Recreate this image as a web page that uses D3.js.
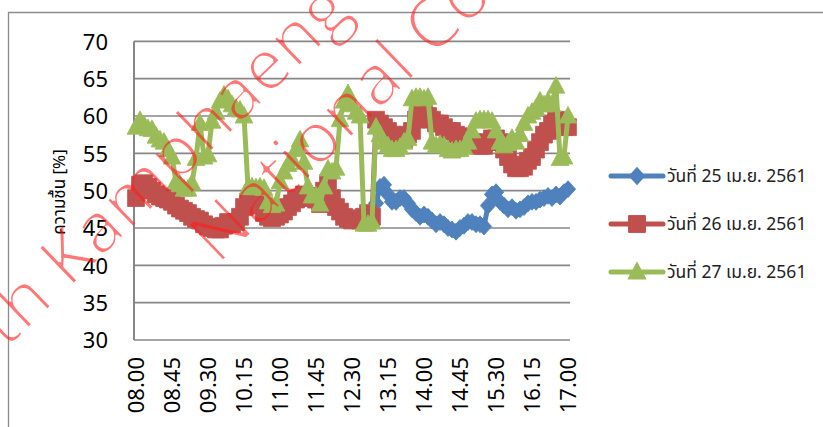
<!DOCTYPE html>
<html>
<head>
<meta charset="utf-8">
<script src="https://cdn.jsdelivr.net/npm/d3@7/dist/d3.min.js"></script>
<style>
  html, body { margin: 0; padding: 0; background: #fff; }
  svg { display: block; }
</style>
</head>
<body>
<svg id="chart" width="823" height="427"></svg>
<script>
// Sampling times, every 5 minutes from 08.00 to 17.00
const times = ("08.00 08.05 08.10 08.15 08.20 08.25 08.30 08.35 08.40 08.45 08.50 08.55 " +
  "09.00 09.05 09.10 09.15 09.20 09.25 09.30 09.35 09.40 09.45 09.50 09.55 " +
  "10.00 10.05 10.10 10.15 10.20 10.25 10.30 10.35 10.40 10.45 10.50 10.55 " +
  "11.00 11.05 11.10 11.15 11.20 11.25 11.30 11.35 11.40 11.45 11.50 11.55 " +
  "12.00 12.05 12.10 12.15 12.20 12.25 12.30 12.35 12.40 12.45 12.50 12.55 " +
  "13.00 13.05 13.10 13.15 13.20 13.25 13.30 13.35 13.40 13.45 13.50 13.55 " +
  "14.00 14.05 14.10 14.15 14.20 14.25 14.30 14.35 14.40 14.45 14.50 14.55 " +
  "15.00 15.05 15.10 15.15 15.20 15.25 15.30 15.35 15.40 15.45 15.50 15.55 " +
  "16.00 16.05 16.10 16.15 16.20 16.25 16.30 16.35 16.40 16.45 16.50 16.55 17.00").split(" ");

const tickLabels = ["08.00", "08.45", "09.30", "10.15", "11.00", "11.45", "12.30",
                    "13.15", "14.00", "14.45", "15.30", "16.15", "17.00"];
const yTicks = [30, 35, 40, 45, 50, 55, 60, 65, 70];

const seriesNames = ["วันที่ 25 เม.ย. 2561", "วันที่ 26 เม.ย. 2561", "วันที่ 27 เม.ย. 2561"];

// Humidity [%], 25 April 2018 (logging started at 13.00)
const day25 = [
  null, null, null, null, null, null, null, null, null, null, null, null,
  null, null, null, null, null, null, null, null, null, null, null, null,
  null, null, null, null, null, null, null, null, null, null, null, null,
  null, null, null, null, null, null, null, null, null, null, null, null,
  null, null, null, null, null, null, null, null, null, null, null, null,
  48.3, 50.5, 50.8, 49.5, 48.5, 48.5, 49.0, 49.0, 48.3, 47.5, 47.0, 46.5,
  46.8, 46.5, 46.0, 45.5, 45.8, 45.5, 45.0, 44.8, 44.5, 45.0, 45.3, 45.8,
  45.8, 45.5, 45.5, 45.2, 48.0, 49.5, 49.8, 48.5, 48.0, 47.5, 47.8, 47.3,
  47.5, 47.8, 48.3, 48.5, 48.5, 48.8, 49.0, 49.3, 49.0, 49.5, 49.2, 49.8, 50.2
];

// Humidity [%], 26 April 2018
const day26 = [
  49.0, 50.8, 51.0, 50.5, 50.0, 49.5, 49.2, 49.0, 48.8, 48.5, 48.0, 47.6,
  47.3, 47.0, 46.5, 46.2, 46.0, 45.5, 45.2, 45.0, 44.8, 44.8, 45.3, 45.8,
  45.5, 45.8, 46.5, 47.8, 48.5, 48.3, 48.0, 48.2, 47.0, 46.5, 46.3, 46.5,
  46.8, 47.2, 47.8, 48.3, 48.8, 49.0, 49.5, 49.3, 49.2, 48.8, 48.2, 50.0,
  51.0, 49.0, 47.8, 47.2, 46.5, 46.2, 46.0, 46.3, 46.0, 46.5, 47.0, 46.5,
  59.5, 59.0, 58.5, 58.0, 57.5, 57.3, 57.0, 56.8, 57.5, 58.0, 59.5, 60.5,
  60.5, 60.0, 59.5, 59.0, 59.0, 58.5, 58.0, 58.0, 57.5, 57.3, 57.0, 56.8,
  56.5, 56.3, 56.0, 56.0, 56.5, 57.0, 57.0, 56.5, 55.5, 54.5, 53.5, 53.0,
  53.0, 53.2, 54.0, 54.5, 55.5, 56.5, 57.5, 58.0, 59.0, 59.5, 59.0, 58.5, 58.5
];

// Humidity [%], 27 April 2018
const day27 = [
  58.5, 59.4, 58.8, 58.3, 58.2, 57.3, 56.8, 56.5, 55.5, 54.5, 51.2, 50.8,
  50.2, 50.2, 51.0, 54.3, 59.0, 54.5, 54.8, 59.3, 60.5, 62.0, 62.8, 62.3,
  61.5, 61.0, 60.8, 60.0, 50.4, 50.5, 50.4, 50.5, 50.3, 48.5, 48.0, 48.2,
  51.2, 52.5, 53.5, 54.2, 55.5, 56.8, 53.8, 50.5, 49.3, 49.3, 48.2, 50.5,
  52.9, 52.5, 53.0, 59.5, 62.0, 63.0, 61.5, 60.5, 60.0, 45.5, 45.5, 45.8,
  58.5, 57.5, 56.5, 56.0, 55.5, 55.5, 55.8, 56.5, 57.0, 62.3, 62.5, 62.5,
  62.3, 62.5, 56.5, 56.0, 56.2, 56.0, 55.5, 55.3, 55.5, 55.5, 55.8, 56.5,
  58.0, 59.3, 59.5, 59.5, 59.5, 59.3, 58.0, 56.5, 56.0, 56.3, 57.0, 56.5,
  57.5, 59.0, 60.0, 60.5, 61.0, 62.0, 61.5, 62.0, 61.5, 64.0, 54.3, 54.5, 60.0
];

const colors = ["#4F81BD", "#C0504D", "#9BBB59"];
const markerTypes = [d3.symbolDiamond2, d3.symbolSquare2, d3.symbolTriangle2];
const markerSizes = [150, 360, 225];
const markerShift = [0, 0, 1.5];
const markerScaleY = [1.1, 1, 1.08];

const svg = d3.select("#chart");
const plot = { left: 134, right: 570, top: 41.3, bottom: 340 };

// Thin-stroke filter for the stamp lettering
const defs = svg.append("defs");
const thin = defs.append("filter").attr("id", "thin")
  .attr("filterUnits", "userSpaceOnUse")
  .attr("x", 0).attr("y", 0).attr("width", 823).attr("height", 427);
thin.append("feMorphology").attr("operator", "erode").attr("radius", 1.0);

// Outer chart frame (left and top edges)
svg.append("path")
  .attr("d", `M8.5,427 L8.5,12.5 L823,12.5`)
  .attr("fill", "none").attr("stroke", "#8c8c8c").attr("stroke-width", 1.3);

const x = d3.scaleBand().domain(times).range([plot.left, plot.right]);
const xc = t => x(t) + x.bandwidth() / 2;
const y = d3.scaleLinear().domain([30, 70]).range([plot.bottom, plot.top]);

// Horizontal gridlines
svg.append("g").selectAll("line").data(yTicks).join("line")
  .attr("x1", plot.left).attr("x2", plot.right)
  .attr("y1", d => y(d)).attr("y2", d => y(d))
  .attr("stroke", "#878787").attr("stroke-width", 1.7);

// Vertical axis line
svg.append("line")
  .attr("x1", plot.left).attr("x2", plot.left)
  .attr("y1", plot.top).attr("y2", plot.bottom)
  .attr("stroke", "#878787").attr("stroke-width", 2);

// Y axis labels
const yAxis = d3.axisLeft(y).tickValues(yTicks).tickSize(0).tickPadding(0).tickFormat(d3.format("d"));
const gy = svg.append("g").attr("transform", `translate(108,0)`).call(yAxis);
gy.select(".domain").remove();
gy.selectAll("text")
  .attr("font-family", "'Noto Sans', 'Open Sans', sans-serif")
  .attr("font-size", 22).attr("fill", "#000").attr("dy", "0.36em");

// X axis labels, rotated
const xAxis = d3.axisBottom(x).tickValues(tickLabels).tickSize(0).tickPadding(0);
const gx = svg.append("g").attr("transform", `translate(0,357)`).call(xAxis);
gx.select(".domain").remove();
gx.selectAll("text")
  .attr("font-family", "'Noto Sans', 'Open Sans', sans-serif")
  .attr("font-size", 22).attr("fill", "#000")
  .attr("transform", "rotate(-90)")
  .attr("text-anchor", "end")
  .attr("x", 0).attr("y", 0).attr("dy", "0.36em");

// Y axis title
svg.append("text")
  .attr("transform", "translate(60,192) rotate(-90)")
  .attr("text-anchor", "middle").attr("dominant-baseline", "central")
  .attr("font-family", "'Noto Sans Thai', Tahoma, 'Noto Sans', sans-serif")
  .attr("font-size", 17).attr("fill", "#000")
  .text("ความชื้น [%]");

// Series: line then markers
const series = [day25, day26, day27];
series.forEach((vals, s) => {
  const pts = times.map((t, i) => ({ t, v: vals[i] })).filter(d => d.v !== null);
  const g = svg.append("g");
  g.append("path")
    .datum(pts)
    .attr("d", d3.line().x(d => xc(d.t)).y(d => y(d.v)))
    .attr("fill", "none").attr("stroke", colors[s])
    .attr("stroke-width", 5).attr("stroke-linejoin", "round").attr("stroke-linecap", "round");
  const sym = d3.symbol().type(markerTypes[s]).size(markerSizes[s]);
  g.selectAll("path.m").data(pts).join("path")
    .attr("class", "m")
    .attr("d", sym)
    .attr("transform", d => `translate(${xc(d.t)},${y(d.v) + markerShift[s]}) scale(1,${markerScaleY[s]})`)
    .attr("fill", colors[s]).attr("stroke", colors[s]).attr("stroke-width", 0.8);
});

// Legend
const legendY = [176, 224, 272];
seriesNames.forEach((name, s) => {
  const g = svg.append("g").attr("transform", `translate(0,${legendY[s]})`);
  g.append("line").attr("x1", 611).attr("x2", 663).attr("y1", 0).attr("y2", 0)
    .attr("stroke", colors[s]).attr("stroke-width", 5).attr("stroke-linecap", "round");
  g.append("path")
    .attr("d", d3.symbol().type(markerTypes[s]).size(markerSizes[s]))
    .attr("transform", `translate(637,${markerShift[s]}) scale(1,${markerScaleY[s]})`)
    .attr("fill", colors[s]).attr("stroke", colors[s]);
  g.append("text").attr("x", 667).attr("y", 0).attr("dominant-baseline", "central")
    .attr("font-family", "'Noto Sans Thai', Tahoma, Arimo, 'Liberation Sans', sans-serif")
    .attr("font-size", 17.5).attr("fill", "#222").text(name);
});

// Semi-transparent red stamp text across the page
const stampOuter = svg.append("g").attr("opacity", 0.6);
const stamp = stampOuter.append("g")
  .attr("filter", "url(#thin)")
  .attr("font-family", "'Open Sans', Lato, sans-serif")
  .attr("font-size", 71)
  .attr("fill", "#ff1e1e");
stamp.append("text").attr("transform", "translate(6,350) rotate(-44)").text("th Kamphaeng Phet");
stamp.append("text").attr("transform", "translate(218,266) rotate(-44)").text("National Conference");
</script>
</body>
</html>
